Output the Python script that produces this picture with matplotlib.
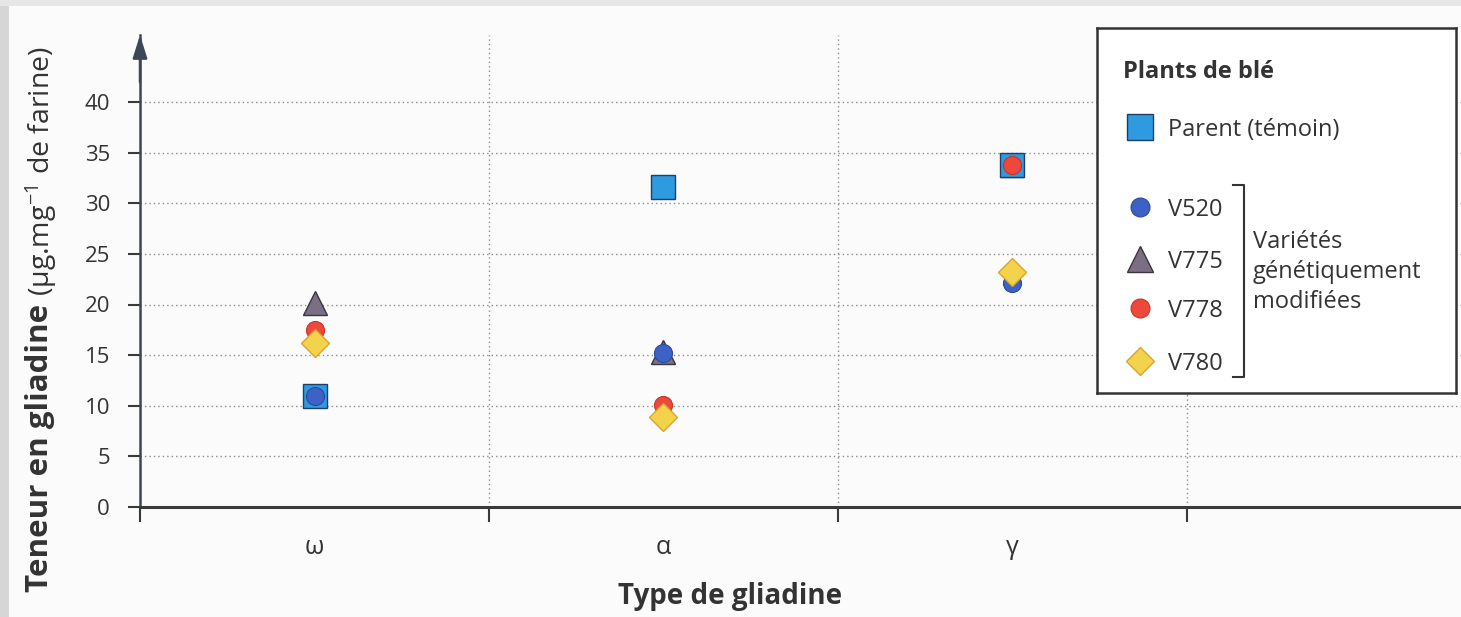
import matplotlib
matplotlib.use('Agg')
import matplotlib.pyplot as plt
from matplotlib.patches import Rectangle
import numpy as np

# ---------------- data ----------------
categories = ['ω', 'α', 'γ']
series_names = ['Parent (témoin)', 'V520', 'V775', 'V778', 'V780']
parent = [11.0, 31.6, 33.8]
v520 = [11.0, 15.2, 22.1]
v775 = [20.1, 15.3, 33.8]
v778 = [17.5, 10.1, 33.8]
v780 = [16.2, 8.9, 23.2]
y_ticks = [0, 5, 10, 15, 20, 25, 30, 35, 40]
legend_title = 'Plants de blé'
bracket_label = 'Variétés\ngénétiquement\nmodifiées'
x_label = 'Type de gliadine'
y_label_bold = 'Teneur en gliadine'
y_label_unit = r'(µg.mg$^{-1}$ de farine)'

# ---------------- styles ----------------
styles = {
    'Parent (témoin)': dict(marker='s', ms=17.3, mfc='#2e9ae0', mec='#1f3f66', mew=1.0, z=4),
    'V520': dict(marker='o', ms=13.0, mfc='#3c62c5', mec='#2a4aa0', mew=0.8, z=5),
    'V775': dict(marker='^', ms=17.0, mfc='#7b7083', mec='#3b3340', mew=1.0, z=3),
    'V778': dict(marker='o', ms=13.0, mfc='#ec483b', mec='#c8352b', mew=0.8, z=6),
    'V780': dict(marker='D', ms=14.0, mfc='#f4d34c', mec='#d7a533', mew=1.0, z=7),
}
values = {'Parent (témoin)': parent, 'V520': v520, 'V775': v775,
          'V778': v778, 'V780': v780}

plt.rcParams['font.family'] = ['Open Sans', 'DejaVu Sans']
plt.rcParams['mathtext.fontset'] = 'custom'
plt.rcParams['mathtext.rm'] = 'Open Sans'
plt.rcParams['mathtext.it'] = 'Open Sans:italic'
plt.rcParams['mathtext.bf'] = 'Open Sans:bold'
TXT = '#333333'

W, H = 1461, 617
fig = plt.figure(figsize=(W / 100, H / 100), dpi=100, facecolor='#fbfbfb')

# scan-like grey border strips
fig.patches.append(Rectangle((0, 0), 9 / W, 1, transform=fig.transFigure,
                             facecolor='#d6d6d6', edgecolor='none', zorder=0))
fig.patches.append(Rectangle((0, 1 - 6 / H), 1, 6 / H, transform=fig.transFigure,
                             facecolor='#e6e6e6', edgecolor='none', zorder=0))

px_per_cat = 349.0
px_per_unit = 10.125
ax_l, ax_b, ax_w, ax_h = 140, 110, W - 140, 472
ax = fig.add_axes([ax_l / W, ax_b / H, ax_w / W, ax_h / H])
ax.patch.set_alpha(0)
ax.set_xlim(0, ax_w / px_per_cat)
ax.set_ylim(0, ax_h / px_per_unit)

x = np.arange(len(categories)) + 0.5
for name in series_names:
    st = styles[name]
    ax.plot(x, values[name], linestyle='none', marker=st['marker'], ms=st['ms'],
            mfc=st['mfc'], mec=st['mec'], mew=st['mew'], zorder=st['z'],
            clip_on=False)

# grid
ax.set_yticks(y_ticks)
ax.set_xticks([0, 1, 2, 3])
ax.grid(True, linestyle=(0, (1, 2.2)), color='#8c8c8c', linewidth=1.0)
ax.set_axisbelow(True)

for s in ['top', 'right']:
    ax.spines[s].set_visible(False)
ax.spines['left'].set_color('#3d4757')
ax.spines['left'].set_linewidth(1.8)
ax.spines['bottom'].set_color('#3a3a3a')
ax.spines['bottom'].set_linewidth(2.2)

ax.tick_params(axis='y', length=8.6, width=1.5, pad=13, labelsize=16,
               colors='#3a3a3a', labelcolor=TXT)
ax.tick_params(axis='x', which='major', length=10.8, width=1.5,
               colors='#3a3a3a', labelbottom=False)
ax.set_xticks(x, minor=True)
ax.set_xticklabels(categories, minor=True)
ax.tick_params(axis='x', which='minor', length=0, pad=20, labelsize=18,
               labelcolor=TXT)

# y-axis arrow
ax.annotate('', xy=(0, 1.0), xycoords='axes fraction', xytext=(0, 0.9),
            arrowprops=dict(arrowstyle='-|>,head_length=0.7,head_width=0.22',
                            color='#3d4757', lw=1.8, mutation_scale=20,
                            shrinkA=0, shrinkB=0), annotation_clip=False)

# x label
fig.text(730 / W, (H - 604) / H, x_label, ha='center', va='baseline',
         fontsize=20, fontweight='bold', color=TXT)

# y label (bold + regular)
t1 = fig.text(40 / W, (H - 592) / H, y_label_bold, rotation=90, ha='center',
              va='bottom', fontsize=22.5, fontweight='bold', color=TXT)
fig.canvas.draw()
bb = t1.get_window_extent()
fig.text(41 / W, (bb.y1 + 8) / H, y_label_unit, rotation=90, ha='center',
         va='bottom', fontsize=20.5, color=TXT)

# ---------------- legend box ----------------
lx0, lx1, ly0, ly1 = 1097, 1456, 28, 393
lax = fig.add_axes([lx0 / W, (H - ly1) / H, (lx1 - lx0) / W, (ly1 - ly0) / H])
lax.set_zorder(10)
lax.set_xlim(lx0, lx1)
lax.set_ylim(ly1, ly0)
lax.set_xticks([])
lax.set_yticks([])
lax.set_facecolor('white')
for s in lax.spines.values():
    s.set_color('#333333')
    s.set_linewidth(1.8)

lax.text(1123, 78, legend_title, ha='left', va='baseline', fontsize=17,
         fontweight='bold', color=TXT)
row_y = {'Parent (témoin)': 127, 'V520': 207, 'V775': 259, 'V778': 308, 'V780': 361}
for name in series_names:
    st = styles[name]
    lax.plot([1140], [row_y[name]], linestyle='none', marker=st['marker'],
             ms=st['ms'] * (1.05 if name != 'V775' else 1.1), mfc=st['mfc'],
             mec=st['mec'], mew=st['mew'])
    lax.text(1168, row_y[name], name, ha='left', va='center_baseline',
             fontsize=17, color=TXT)

# bracket
lax.plot([1233, 1244, 1244, 1233], [185, 185, 377, 377], color='#333333', lw=1.5)
lax.text(1253, 272, bracket_label, ha='left', va='center', fontsize=17,
         color=TXT, linespacing=1.32)

fig.savefig('out.png', dpi=100, facecolor=fig.get_facecolor())
